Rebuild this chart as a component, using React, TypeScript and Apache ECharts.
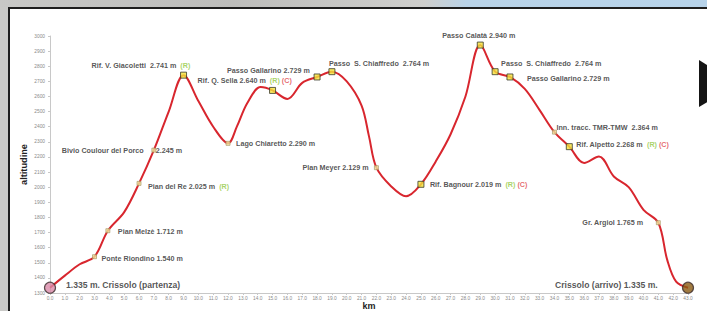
import React, { useEffect, useRef } from 'react';
import * as echarts from 'echarts';

// Elevation profile (km, metres)
const profileKm = [0, 1, 2, 3, 3.9, 5, 6, 7, 8, 9, 10, 11, 12, 12.6, 13.3, 14.2, 15, 16, 17, 18, 19, 20, 21, 21.5, 22, 23, 24, 25, 26, 27, 28, 29, 30, 31, 32, 33, 34, 35, 36, 37, 38, 39, 40, 41, 41.6, 42.2, 43];
const profileElev = [1335, 1415, 1490, 1540, 1712, 1835, 2025, 2245, 2500, 2741, 2570, 2400, 2290, 2402, 2557, 2662, 2640, 2584, 2690, 2729, 2764, 2700, 2540, 2336, 2129, 2005, 1940, 2019, 2170, 2350, 2600, 2940, 2764, 2729, 2650, 2510, 2364, 2268, 2160, 2203, 2071, 2000, 1850, 1765, 1519, 1375, 1335];

// Waypoints
const stopNames = [
  'Ponte Riondino', 'Pian Melzè', 'Pian del Re', 'Bivio Coulour del Porco', 'Rif. V. Giacoletti ',
  'Lago Chiaretto', 'Rif. Q. Sella', 'Passo Gallarino', 'Passo  S. Chiaffredo ', 'Plan Meyer',
  'Rif. Bagnour', 'Passo Calatà', 'Passo  S. Chiaffredo ', 'Passo Gallarino', 'Inn. tracc. TMR-TMW ',
  'Rif. Alpetto', 'Gr. Argiol',
];
const stopHeights = [
  '1.540 m', '1.712 m', '2.025 m', '2.245 m', '2.741 m',
  '2.290 m', '2.640 m', '2.729 m', '2.764 m', '2.129 m',
  '2.019 m', '2.940 m', '2.764 m', '2.729 m', '2.364 m',
  '2.268 m', '1.765 m',
];
const stopKm = [3, 3.9, 6, 7, 9, 12, 15, 18, 19, 22, 25, 29, 30, 31, 34, 35, 41];
const stopElev = [1540, 1712, 2025, 2245, 2741, 2290, 2640, 2729, 2764, 2129, 2019, 2940, 2764, 2729, 2364, 2268, 1765];
const stopTags = ['', '', 'R', '', 'R', '', 'RC', '', '', '', 'RC', '', '', '', '', 'RC', ''];

// Start / end
const endNames = ['1.335 m. Crissolo (partenza)', 'Crissolo (arrivo) 1.335 m.'];
const endKm = [0, 43];
const endElev = [1335, 1335];

// Axis ranges
const kmMin = 0;
const kmMax = 43;
const elevMin = 1300;
const elevMax = 3000;

// label placement (styles)
const stopLabelPos = [
  { dx: 7, dy: 2 }, { dx: 10, dy: 1 }, { dx: 9, dy: 3 }, { dx: -92, dy: 0, w: 94 }, { dx: -92, dy: -10 },
  { dx: 8, dy: 0 }, { dx: -75, dy: -10 }, { dx: -90, dy: -6 }, { dx: -3, dy: -8 }, { dx: -74, dy: 0 },
  { dx: 9, dy: 0 }, { dx: -38, dy: -10 }, { dx: 6, dy: -8 }, { dx: 17, dy: 2 }, { dx: 2, dy: -5 },
  { dx: 7, dy: -2 }, { dx: -76, dy: 0 },
];
const stopBig = [false, false, false, false, true, false, true, true, true, false, true, true, true, true, false, true, false];
const endLabelPos = [{ dx: 16, dy: -3 }, { dx: -133, dy: -3 }];
const endColors = ['#d98aa9', '#8a5a12'];

const FONT = '"Liberation Sans", Arial, sans-serif';

export default function App() {
  const ref = useRef<HTMLDivElement>(null);
  useEffect(() => {
    if (!ref.current) return;
    const chart = echarts.init(ref.current, null, { renderer: 'svg' });

    const rich = {
      n: { fontFamily: FONT, fontSize: 7.2, fontWeight: 'bold', color: '#2a2a2a' },
      r: { fontFamily: FONT, fontSize: 7.2, fontWeight: 'bold', color: '#92c83e' },
      c: { fontFamily: FONT, fontSize: 7.2, fontWeight: 'bold', color: '#e0474c' },
    } as any;

    const stopData = stopKm.map((k, i) => {
      const p = stopLabelPos[i];
      const r: any = { ...rich };
      let text: string;
      if (p.w) {
        r.a = { ...rich.n, width: p.w };
        text = `{a|${stopNames[i]}}{n|${stopHeights[i]}}`;
      } else {
        text = `{n|${stopNames[i]} ${stopHeights[i]}}`;
      }
      if (stopTags[i].includes('R')) text += `{n|  }{r|(R)}`;
      if (stopTags[i].includes('C')) text += `{n| }{c|(C)}`;
      const big = stopBig[i];
      return {
        value: [k, stopElev[i]],
        symbolSize: big ? 6 : 4,
        itemStyle: big
          ? { color: '#f2e23a', borderColor: '#3a3a2a', borderWidth: 1 }
          : { color: '#f0e49a', borderColor: '#a09060', borderWidth: 0.8 },
        label: {
          show: true,
          position: ['50%', '50%'],
          offset: [p.dx, p.dy],
          align: 'left',
          verticalAlign: 'middle',
          formatter: text,
          rich: r,
        },
      };
    });

    const endData = endKm.map((k, i) => ({
      value: [k, endElev[i]],
      itemStyle: { color: endColors[i], borderColor: '#3a2a2a', borderWidth: 1.2 },
      label: {
        show: true,
        position: ['50%', '50%'],
        offset: [endLabelPos[i].dx, endLabelPos[i].dy],
        align: 'left',
        verticalAlign: 'middle',
        formatter: endNames[i],
        fontFamily: FONT,
        fontSize: 8.6,
        fontWeight: 'bold',
        color: '#2a2a2a',
      },
    }));

    chart.setOption({
      animation: false,
      backgroundColor: '#c9c9c7',
      graphic: [
        {
          type: 'rect', z: -20, silent: true,
          shape: { x: 0, y: 0, width: 707, height: 7 },
          style: {
            fill: new echarts.graphic.LinearGradient(0, 0, 1, 0, [
              { offset: 0, color: '#c8c8c6' },
              { offset: 0.33, color: '#bdbdbb' },
              { offset: 0.6, color: '#cfcfcd' },
              { offset: 0.66, color: '#b9d3e8' },
              { offset: 1, color: '#b7d3ea' },
            ]),
          },
        },
        { type: 'rect', z: -20, silent: true, shape: { x: 8, y: 7, width: 699, height: 304 }, style: { fill: '#1e1e1e' } },
        { type: 'rect', z: -19, silent: true, shape: { x: 10, y: 9, width: 697, height: 302 }, style: { fill: '#ffffff' } },
        {
          type: 'polygon', z: 100, silent: true,
          shape: { points: [[699, 60], [737, 84], [699, 107]] },
          style: { fill: '#151515' },
        },
      ],
      grid: { left: 50, right: 19, top: 36, bottom: 18, containLabel: false, outerBoundsMode: 'none' },
      xAxis: {
        type: 'value',
        min: kmMin,
        max: kmMax,
        interval: 1,
        name: 'km',
        nameLocation: 'middle',
        nameGap: 8,
        nameMoveOverlap: false,
        nameTextStyle: { fontFamily: FONT, fontSize: 9, fontWeight: 'bold', color: '#222' },
        axisLine: { show: true, lineStyle: { color: '#c8c8c8', width: 1 } },
        axisTick: { show: true, length: 2, inside: false, lineStyle: { color: '#c8c8c8' } },
        axisLabel: {
          margin: 3,
          fontFamily: FONT,
          fontSize: 4.8,
          color: '#8a8a8a',
          formatter: (v: number) => v.toFixed(1),
        },
        splitLine: { show: false },
      },
      yAxis: {
        type: 'value',
        min: elevMin,
        max: elevMax,
        interval: 100,
        name: 'altitudine',
        nameLocation: 'middle',
        nameGap: 22,
        nameMoveOverlap: false,
        nameTextStyle: { fontFamily: FONT, fontSize: 9.2, fontWeight: 'bold', color: '#222' },
        axisLine: { show: true, lineStyle: { color: '#c8c8c8', width: 1 } },
        axisTick: { show: true, length: 2, lineStyle: { color: '#c8c8c8' } },
        axisLabel: {
          margin: 5,
          fontFamily: FONT,
          fontSize: 4.8,
          color: '#8a8a8a',
          formatter: (v: number) => String(v),
        },
        splitLine: { show: false },
      },
      series: [
        {
          type: 'line',
          data: profileKm.map((k, i) => [k, profileElev[i]]),
          smooth: 0.35,
          showSymbol: false,
          symbol: 'none',
          lineStyle: { color: '#d8262e', width: 2 },
          z: 2,
        },
        {
          type: 'scatter',
          symbol: 'rect',
          data: stopData,
          z: 3,
        },
        {
          type: 'scatter',
          symbol: 'circle',
          symbolSize: 11,
          data: endData,
          z: 4,
        },
      ],
    } as any);
    return () => chart.dispose();
  }, []);
  return <div ref={ref} style={{ position: 'fixed', left: 0, top: 0, width: 707, height: 311 }} />;
}
